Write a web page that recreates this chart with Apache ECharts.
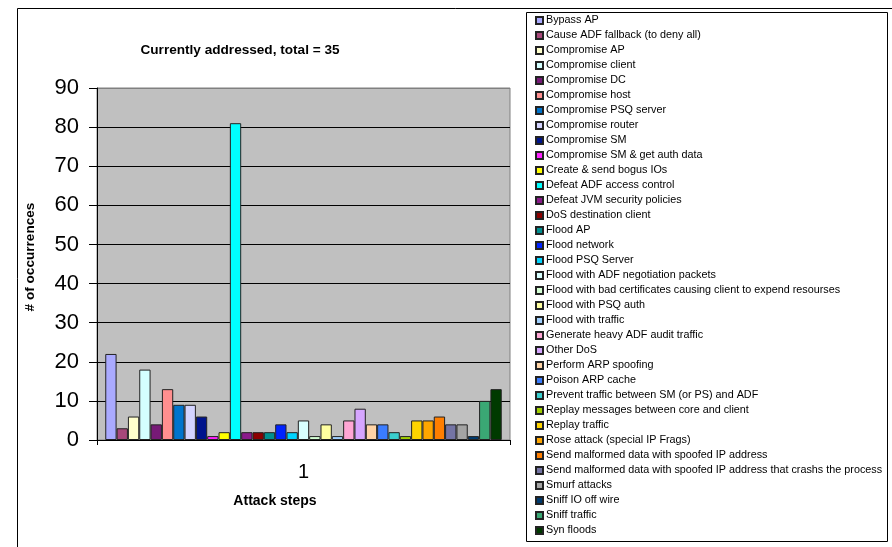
<!DOCTYPE html>
<html>
<head>
<meta charset="utf-8">
<script src="https://cdn.jsdelivr.net/npm/echarts@6/dist/echarts.min.js"></script>
<style>
  html, body { margin: 0; padding: 0; background: #fff; }
  #chart { width: 892px; height: 547px; }
</style>
</head>
<body>
<div id="chart"></div>
<script>
// Attack step names (one series per step) and their occurrence counts
const categories = ['1'];
const stepNames = [
  'Bypass AP',
  'Cause ADF fallback (to deny all)',
  'Compromise AP',
  'Compromise client',
  'Compromise DC',
  'Compromise host',
  'Compromise PSQ server',
  'Compromise router',
  'Compromise SM',
  'Compromise SM & get auth data',
  'Create & send bogus IOs',
  'Defeat ADF access control',
  'Defeat JVM security policies',
  'DoS destination client',
  'Flood AP',
  'Flood network',
  'Flood PSQ Server',
  'Flood with ADF negotiation packets',
  'Flood with bad certificates causing client to expend resourses',
  'Flood with PSQ auth',
  'Flood with traffic',
  'Generate heavy ADF audit traffic',
  'Other DoS',
  'Perform ARP spoofing',
  'Poison ARP cache',
  'Prevent traffic between SM (or PS) and ADF',
  'Replay messages between core and client',
  'Replay traffic',
  'Rose attack (special IP Frags)',
  'Send malformed data with spoofed IP address',
  'Send malformed data with spoofed IP address that crashs the process',
  'Smurf attacks',
  'Sniff IO off wire',
  'Sniff traffic',
  'Syn floods'
];
const occurrences = [
  22, 3, 6, 18, 4, 13, 9, 9, 6, 1,
  2, 81, 2, 2, 2, 4, 2, 5, 1, 4,
  1, 5, 8, 4, 4, 2, 1, 5, 5, 6,
  4, 4, 1, 10, 13
];
const yTicks = { min: 0, max: 90, interval: 10 };

// Fill colours for each step, in legend order
const stepColors = [
  '#AAAAFF', '#A8487A', '#FFFFCC', '#D4FFFF', '#771A77', '#FF8F8F', '#0074CC', '#D4D4FF',
  '#00148C', '#FF22FF', '#FFFF00', '#00FFFF', '#8A1A8A', '#8C0000', '#009090', '#0022FF',
  '#00D4FF', '#D8FFFF', '#D4FFD4', '#FFFFA0', '#A0D0FF', '#FFA6D4', '#D6A6FF', '#FFD4A6',
  '#3A7CFF', '#3ACFCF', '#A0CF00', '#FFD400', '#FFA600', '#FF7E00', '#7474A4', '#A4A4A4',
  '#003A6E', '#3AA774', '#003A00'
];

const FONT = '"Liberation Sans", Arial, sans-serif';

const series = stepNames.map((name, i) => ({
  name: name,
  type: 'bar',
  data: [occurrences[i]],
  barGap: '0%',
  barCategoryGap: '4%',
  itemStyle: { color: stepColors[i], borderColor: '#222', borderWidth: 1 },
  emphasis: { disabled: true }
}));

const chart = echarts.init(document.getElementById('chart'), null, { renderer: 'canvas' });
chart.setOption({
  animation: false,
  backgroundColor: '#fff',
  title: [
    {
      text: 'Currently addressed, total = 35',
      left: 240, top: 43, textAlign: 'center', padding: 0,
      textStyle: { fontFamily: FONT, fontSize: 13.6, fontWeight: 'bold', color: '#000' }
    },
    {
      text: 'Attack steps',
      left: 275, top: 494, textAlign: 'center', padding: 0,
      textStyle: { fontFamily: FONT, fontSize: 14, fontWeight: 'bold', color: '#000' }
    }
  ],
  graphic: [
    { type: 'rect', shape: { x: 17.5, y: 8.5, width: 900, height: 600 },
      style: { fill: 'none', stroke: '#000', lineWidth: 1 }, z: -1 },
    { type: 'rect', shape: { x: 526.5, y: 12.5, width: 361, height: 529 },
      style: { fill: '#fff', stroke: '#000', lineWidth: 1 }, z: 0 }
  ],
  legend: {
    orient: 'vertical',
    left: 535, top: 13,
    padding: 0,
    itemWidth: 7, itemHeight: 7, itemGap: 0,
    icon: 'rect',
    selectedMode: false,
    textStyle: { fontFamily: FONT, fontSize: 10.8, color: '#000', lineHeight: 15, padding: [0, 0, 0, -2] },
    data: stepNames,
    z: 5
  },
  grid: {
    left: 97, top: 88, right: 382, bottom: 107,
    show: true, backgroundColor: '#C0C0C0', borderColor: '#808080', borderWidth: 1
  },
  xAxis: {
    type: 'category',
    data: categories,
    axisLine: { lineStyle: { color: '#000', width: 1 } },
    axisTick: { show: true, length: 5, lineStyle: { color: '#000' } },
    axisLabel: { fontFamily: FONT, fontSize: 20, color: '#000', margin: 22 }
  },
  yAxis: {
    type: 'value',
    min: yTicks.min, max: yTicks.max, interval: yTicks.interval,
    name: '# of occurrences',
    nameLocation: 'middle',
    nameGap: 60,
    nameTextStyle: { fontFamily: FONT, fontSize: 13.6, fontWeight: 'bold', color: '#000', padding: [0, 0, 0, 14] },
    axisLine: { show: true, lineStyle: { color: '#000', width: 1 } },
    axisTick: { show: true, length: 8, lineStyle: { color: '#000' } },
    axisLabel: { fontFamily: FONT, fontSize: 22, color: '#000', margin: 18 },
    splitLine: {
      show: true,
      lineStyle: {
        color: ['#000', '#000', '#000', '#000', '#000', '#000', '#000', '#000', '#000', '#808080'],
        width: 1
      }
    }
  },
  series: series
});
</script>
</body>
</html>
